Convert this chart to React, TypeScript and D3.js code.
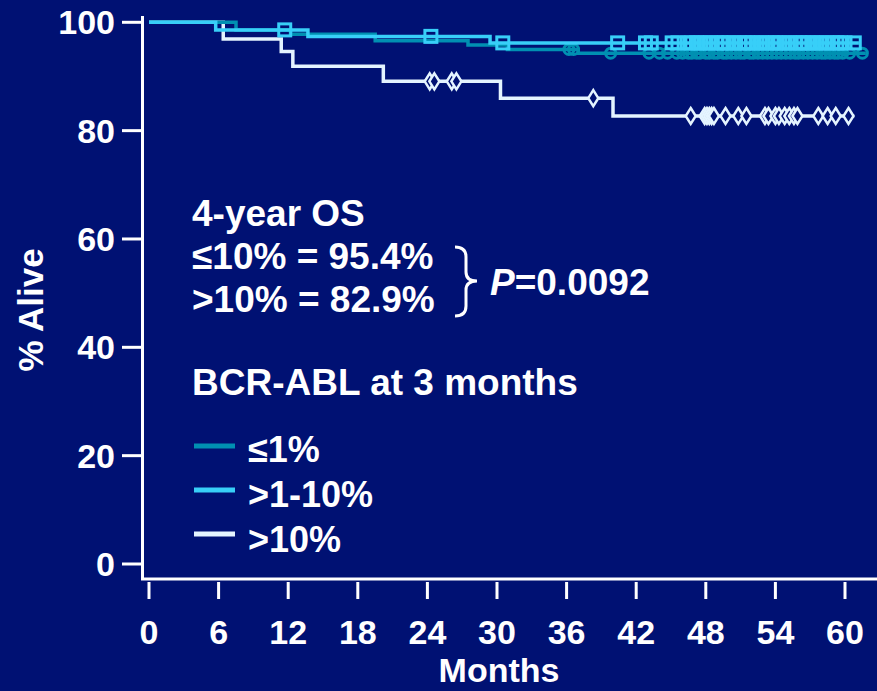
import React from 'react';
import * as d3 from 'd3';

// survival curves (months, % alive)
const lowTimes = [0, 7.5, 12.2, 19.5, 27.5, 30.9, 37.0, 61.8];
const lowSurv = [100, 98.6, 97.8, 96.6, 95.8, 95.0, 94.3, 94.3];
const lowCensor = [36.2, 36.6, 39.8, 43.1, 44.0, 44.7, 45.5, 46.0, 46.5, 46.8, 47.2, 47.5, 48.0, 48.3, 48.7, 49.0, 49.5, 49.8, 50.2, 50.6, 51.0, 51.3, 51.8, 52.1, 52.5, 52.9, 53.3, 53.7, 54.1, 54.5, 54.9, 55.3, 55.7, 56.0, 56.4, 56.8, 57.2, 57.6, 58.0, 58.3, 58.7, 59.1, 59.4, 59.8, 60.4, 61.5];

const midTimes = [0, 5.75, 13.7, 29.4, 61.2];
const midSurv = [100, 98.6, 97.4, 96.2, 96.2];
const midCensor = [11.7, 24.3, 30.5, 40.4, 42.8, 43.3, 45.1, 45.6, 46.4, 46.8, 47.2, 47.6, 48.0, 48.4, 48.9, 49.3, 49.6, 50.0, 50.4, 50.9, 51.3, 51.6, 52.0, 52.4, 52.8, 53.2, 53.7, 54.0, 54.4, 54.8, 55.2, 55.7, 56.1, 56.4, 56.8, 57.2, 57.6, 58.0, 58.4, 58.9, 59.3, 59.6, 60.0, 60.8];

const highTimes = [0, 6.4, 11.4, 12.4, 20.2, 30.3, 40.0, 60.8];
const highSurv = [100, 96.9, 94.6, 91.9, 89.1, 86.0, 82.7, 82.7];
const highCensor = [24.2, 24.6, 26.1, 26.5, 38.3, 46.7, 47.9, 48.1, 48.3, 48.5, 48.7, 49.7, 50.8, 51.5, 53.1, 53.4, 54.0, 54.3, 54.8, 55.2, 55.6, 55.9, 57.7, 58.5, 59.2, 60.3];

const xTicks = [0, 6, 12, 18, 24, 30, 36, 42, 48, 54, 60];
const yTicks = [0, 20, 40, 60, 80, 100];

const legendLabels = ['≤1%', '>1-10%', '>10%'];
const statLines = ['4-year OS', '≤10% = 95.4%', '>10% = 82.9%'];

const W = 877;
const H = 691;
const BG = '#001173';
const TEAL = '#0090b2';
const CYAN = '#38cff8';
const PALE = '#e4f4ff';
const FONT = '"Liberation Sans", Arial, sans-serif';

const x = d3.scaleLinear().domain([0, 60]).range([149, 845]);
const y = d3.scaleLinear().domain([0, 100]).range([564, 22.3]);

const line = d3.line<[number, number]>()
  .x(d => x(d[0]))
  .y(d => y(d[1]))
  .curve(d3.curveStepAfter);

// survival value at time t (step function)
function survAt(times: number[], surv: number[], t: number) {
  const i = d3.bisectRight(times, t) - 1;
  return surv[Math.max(0, i)];
}

function pts(times: number[], surv: number[]): [number, number][] {
  return times.map((t, i) => [t, surv[i]]);
}

export default function App() {
  const txt = { fontFamily: FONT, fontWeight: 'bold', fill: '#ffffff' } as const;

  return (
    <svg width={W} height={H} style={{ position: 'absolute', left: 0, top: 0, display: 'block' }}>
      <rect width={W} height={H} fill={BG} />

      {/* axes */}
      <line x1={142.5} x2={142.5} y1={16} y2={580} stroke="#fff" strokeWidth={3} />
      <line x1={141} x2={W} y1={579} y2={579} stroke="#fff" strokeWidth={3} />
      {yTicks.map(v => (
        <g key={'y' + v}>
          <line x1={122} x2={142} y1={y(v)} y2={y(v)} stroke="#fff" strokeWidth={3} />
          <text x={115} y={y(v)} dy="0.35em" textAnchor="end" fontSize={34} {...txt}>{v}</text>
        </g>
      ))}
      {xTicks.map(v => (
        <g key={'x' + v}>
          <line x1={x(v)} x2={x(v)} y1={582} y2={599} stroke="#fff" strokeWidth={3} />
          <text x={x(v)} y={644} textAnchor="middle" fontSize={34} {...txt}>{v}</text>
        </g>
      ))}
      <text x={499} y={682} textAnchor="middle" fontSize={34} {...txt}>Months</text>
      <text transform="translate(43,310) rotate(-90)" textAnchor="middle" fontSize={35} {...txt}>% Alive</text>

      {/* >10% */}
      <path d={line(pts(highTimes, highSurv)) || ''} fill="none" stroke={PALE} strokeWidth={3.5} />
      {highCensor.map((t, i) => {
        const cx = x(t), cy = y(survAt(highTimes, highSurv, t));
        return <path key={'h' + i} d={`M${cx},${cy - 8}L${cx + 5},${cy}L${cx},${cy + 8}L${cx - 5},${cy}Z`}
          fill={BG} stroke={PALE} strokeWidth={2.5} />;
      })}

      {/* ≤1% */}
      <path d={line(pts(lowTimes, lowSurv)) || ''} fill="none" stroke={TEAL} strokeWidth={3.5} />
      {lowCensor.map((t, i) => (
        <circle key={'l' + i} cx={x(t)} cy={y(survAt(lowTimes, lowSurv, t))} r={5}
          fill="none" stroke={TEAL} strokeWidth={3} />
      ))}

      {/* >1-10% */}
      <path d={line(pts(midTimes, midSurv)) || ''} fill="none" stroke={CYAN} strokeWidth={3.5} />
      {midCensor.map((t, i) => {
        const cx = x(t), cy = y(survAt(midTimes, midSurv, t));
        return <rect key={'m' + i} x={cx - 6} y={cy - 6} width={12} height={12}
          fill="none" stroke={CYAN} strokeWidth={3} />;
      })}

      {/* annotation */}
      {statLines.map((s, i) => (
        <text key={'s' + i} x={192} y={226 + i * 43} fontSize={37} {...txt}>{s}</text>
      ))}
      <path d="M455,247 Q466,247 466,257 L466,272 Q466,281 477,281 Q466,281 466,290 L466,306 Q466,316 455,316"
        fill="none" stroke="#fff" strokeWidth={3} />
      <text x={490} y={295} fontSize={37} {...txt}>
        <tspan fontStyle="italic">P</tspan>=0.0092
      </text>

      <text x={192} y={395} fontSize={37} {...txt}>BCR-ABL at 3 months</text>
      {legendLabels.map((s, i) => (
        <g key={'lg' + i}>
          <line x1={194} x2={235} y1={446 + i * 44} y2={446 + i * 44}
            stroke={[TEAL, CYAN, PALE][i]} strokeWidth={5} />
          <text x={248} y={462 + i * 45} fontSize={36} {...txt}>{s}</text>
        </g>
      ))}
    </svg>
  );
}
